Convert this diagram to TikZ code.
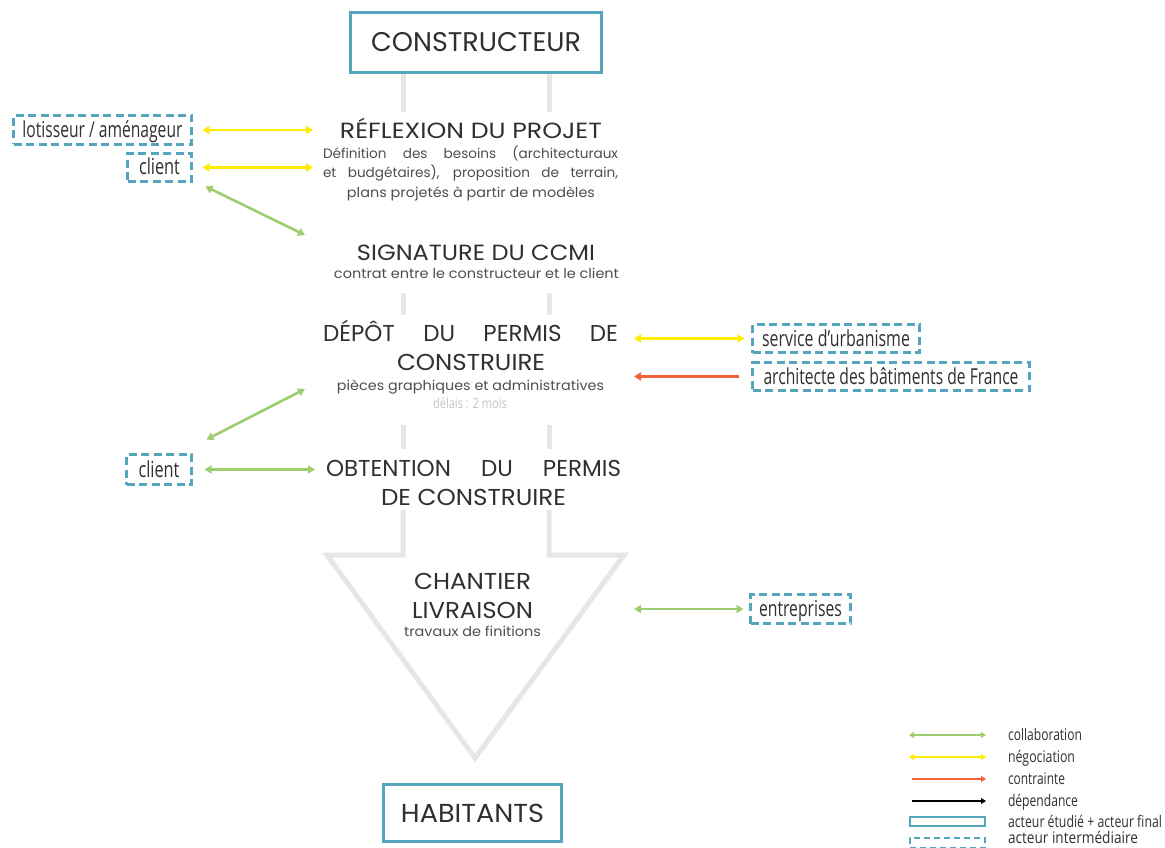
\documentclass[tikz,border=0pt]{standalone}
\usepackage{fontspec}
\usepackage{graphicx}
\setmainfont{Poppins}
\newfontfamily\condfont[FakeStretch=0.78]{Open Sans}
\usetikzlibrary{arrows.meta}

\definecolor{acteur}{RGB}{85,165,189}
\definecolor{jaune}{RGB}{255,236,0}
\definecolor{vert}{RGB}{160,204,112}
\definecolor{rouge}{RGB}{242,98,58}
\definecolor{barre}{RGB}{230,230,230}
\definecolor{ink}{RGB}{48,48,48}
\definecolor{descink}{RGB}{78,78,78}
\definecolor{delai}{RGB}{196,196,196}

% set a text to a given width, keeping its height
\newcommand\hfit[2]{\resizebox{#1}{\height}{#2}}
% spread the words of a line over a given width
\newcommand\spread[2]{\makebox[#1][s]{#2}}

\begin{document}
\begin{tikzpicture}[x=1pt,y=-1pt,
  every node/.style={inner sep=0pt,outer sep=0pt,text=ink},
  titre/.style={anchor=base,font=\fontsize{23}{27}\selectfont},
  desc/.style={anchor=base,text=descink,font=\fontsize{13.6}{19}\selectfont},
  actorbox/.style={draw=acteur,line width=3pt,font=\fontsize{27}{30}\selectfont},
  interbox/.style={draw=acteur,line width=2.6pt,dash pattern=on 8pt off 4.5pt,
    font=\condfont\fontsize{22}{24}\selectfont,text height=17pt,text depth=2pt},
  legtext/.style={anchor=base west,font=\condfont\fontsize{16}{18}\selectfont},
  fleche/.style={line width=2.6pt},
  tip/.tip={Triangle[length=7pt,width=8pt]},
  smalltip/.tip={Triangle[length=5pt,width=6pt]},
  collab/.style={fleche,draw=vert,tip-tip},
  nego/.style={fleche,draw=jaune,tip-tip},
  contr/.style={fleche,draw=rouge,-tip},
  legline/.style={line width=2pt},
  bar/.style={draw=barre,line width=5pt}]

\useasboundingbox (0,0) rectangle (1165,848);
\clip (0,0) rectangle (1165,848);

% grey spine of the process, ending in a large arrow
\draw[bar] (403,74) -- (403,112);
\draw[bar] (549,74) -- (549,112);
\draw[bar] (403,293) -- (403,315);
\draw[bar] (549,293) -- (549,315);
\draw[bar] (403,425) -- (403,449);
\draw[bar] (549,425) -- (549,449);
\draw[bar,line join=miter] (403,510) -- (403,555) -- (327,555) -- (475,758)
  -- (624,555) -- (549,555) -- (549,510);

% main actors
\node[actorbox,minimum width=251pt,minimum height=60pt] (constructeur) at (476,42.5)
  {\hfit{210pt}{CONSTRUCTEUR}};
\node[actorbox,minimum width=178pt,minimum height=57pt,font=\fontsize{26}{30}\selectfont]
  (habitants) at (472.5,813) {\hfit{143pt}{HABITANTS}};

% process steps
\node[titre,font=\fontsize{22}{26}\selectfont] (refl) at (471,138.5) {\hfit{262pt}{RÉFLEXION DU PROJET}};
\node[desc] (refl1) at (470.5,159) {\spread{295pt}{Définition des besoins (architecturaux}};
\node[desc] (refl2) at (470.5,178) {\spread{295pt}{et budgétaires), proposition de terrain,}};
\node[desc] (refl3) at (471,197) {\hfit{248pt}{plans projetés à partir de modèles}};

\node[titre,font=\fontsize{22}{26}\selectfont] (sign) at (476,260) {\hfit{238pt}{SIGNATURE DU CCMI}};
\node[desc] (sign1) at (476.5,278.3) {\hfit{285pt}{contrat entre le constructeur et le client}};

\node[titre] (dep1) at (470.5,341.7) {\spread{295pt}{DÉPÔT DU PERMIS DE}};
\node[titre] (dep2) at (471,370.7) {\hfit{148pt}{CONSTRUIRE}};
\node[desc] (dep3) at (470.5,390.7) {\hfit{267pt}{pièces graphiques et administratives}};
\node[anchor=base,text=delai,font=\condfont\fontsize{14}{16}\selectfont] (delais) at (470,408)
  {\hfit{74pt}{délais : 2 mois}};

\node[titre] (obt1) at (473.5,476.7) {\spread{295pt}{OBTENTION DU PERMIS}};
\node[titre] (obt2) at (473.5,505) {\hfit{185pt}{DE CONSTRUIRE}};

\node[titre] (chan1) at (472.5,589.3) {\hfit{117pt}{CHANTIER}};
\node[titre] (chan2) at (472.5,618.3) {\hfit{121pt}{LIVRAISON}};
\node[desc] (chan3) at (472.5,636.7) {\hfit{137pt}{travaux de finitions}};

% intermediate actors
\node[interbox,minimum width=178pt,minimum height=29pt] (lot) at (102.5,130)
  {\hfit{160pt}{lotisseur / aménageur}};
\node[interbox,minimum width=64pt,minimum height=28pt] (cl1) at (159.5,167.5)
  {\hfit{41pt}{client}};
\node[interbox,minimum width=65pt,minimum height=30pt] (cl2) at (159,469.5)
  {\hfit{41pt}{client}};
\node[interbox,minimum width=167pt,minimum height=28pt] (serv) at (836,338.5)
  {\hfit{148pt}{service d’urbanisme}};
\node[interbox,minimum width=277pt,minimum height=28pt] (archi) at (891,376.5)
  {\hfit{255pt}{architecte des bâtiments de France}};
\node[interbox,minimum width=100pt,minimum height=29pt] (entr) at (800.5,609)
  {\hfit{83pt}{entreprises}};

% arrow ends on the side of the steps
\coordinate (stepL) at (313,0);
\coordinate (stepLL) at (315,0);
\coordinate (stepR) at (634,0);
\coordinate (signW) at (305,235);
\coordinate (depW) at (305,389);

% relations
\draw[nego] ([xshift=11pt]lot.east) -- (stepL |- lot.east);
\draw[nego] ([xshift=11pt]cl1.east) -- (stepL |- cl1.east);
\draw[collab] ([shift={(14,5)}]cl1.south east) -- (signW);
\draw[collab] (depW) -- ([shift={(15,-15)}]cl2.north east);
\draw[collab] ([xshift=13pt]cl2.east) -- (stepLL |- cl2.east);
\draw[nego] (stepR |- serv.west) -- ([xshift=-8pt]serv.west);
\draw[contr] ([xshift=-14pt]archi.west) -- (stepR |- archi.west);
\draw[collab] (stepR |- entr.west) -- ([xshift=-7pt]entr.west);

% legend
\coordinate (lg1) at (909,735);
\coordinate (lg2) at (909,757);
\coordinate (lg3) at (909,779);
\coordinate (lg4) at (909,801);
\draw[legline,draw=vert,smalltip-smalltip] (lg1) -- ++(77,0);
\draw[legline,draw=jaune,smalltip-smalltip] (lg2) -- ++(77,0);
\draw[legline,draw=rouge,-smalltip] ([xshift=3pt]lg3) -- ++(74,0);
\draw[legline,draw=black,-smalltip] ([xshift=3pt]lg4) -- ++(74,0);
\node[draw=acteur,line width=2.2pt,minimum width=75pt,minimum height=9pt] (legA) at (947.5,821.5) {};
\node[draw=acteur,line width=2.2pt,dash pattern=on 6pt off 4pt,minimum width=75pt,minimum height=10pt]
  (legB) at (947.5,843) {};
\node[legtext] (t1) at (1008,740.5) {\hfit{74pt}{collaboration}};
\node[legtext] (t2) at (1008,762.5) {\hfit{67pt}{négociation}};
\node[legtext] (t3) at (1008,784.5) {\hfit{57pt}{contrainte}};
\node[legtext] (t4) at (1008,806.5) {\hfit{70pt}{dépendance}};
\node[legtext] (t5) at (1008,827.5) {\hfit{154pt}{acteur étudié + acteur final}};
\node[legtext] (t6) at (1008,843.5) {\hfit{130pt}{acteur intermédiaire}};
\end{tikzpicture}
\end{document}
